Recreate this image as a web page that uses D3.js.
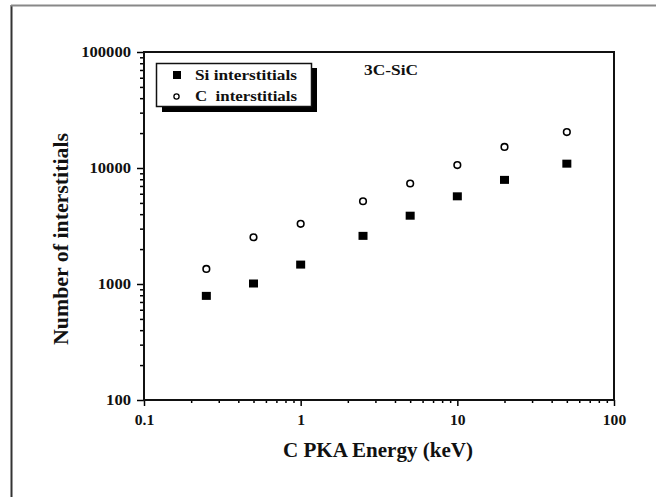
<!DOCTYPE html>
<html>
<head>
<meta charset="utf-8">
<script src="https://cdn.jsdelivr.net/npm/d3@7"></script>
<style>
  body { margin: 0; background: #fff; }
  svg { display: block; }
  text { font-family: "Liberation Serif", "Times New Roman", serif; font-weight: bold; fill: #111; }
</style>
</head>
<body>
<div id="chart"></div>
<script>
// PKA energies (keV) and interstitial counts
const energies = [0.25, 0.5, 1, 2.5, 5, 10, 20, 50];
const siInterstitials = [790, 1010, 1470, 2600, 3880, 5700, 7900, 10900];
const cInterstitials = [1350, 2530, 3300, 5170, 7350, 10600, 15200, 20400];

const xMajor = [0.1, 1, 10, 100];
const yMajor = [100, 1000, 10000, 100000];
const xTickLabels = ["0.1", "1", "10", "100"];
const yTickLabels = ["100", "1000", "10000", "100000"];

const width = 656, height = 497;
const plot = { left: 144, right: 614, top: 52, bottom: 400 };

const svg = d3.select("#chart").append("svg")
  .attr("width", width)
  .attr("height", height);

// outer frame (left + top edges only)
svg.append("line").attr("x1", 11.5).attr("x2", 11.5).attr("y1", 5).attr("y2", height)
  .attr("stroke", "#333").attr("stroke-width", 2);
svg.append("line").attr("x1", 11).attr("x2", width).attr("y1", 5.5).attr("y2", 5.5)
  .attr("stroke", "#888").attr("stroke-width", 2);

const x = d3.scaleLog().domain([0.1, 100]).range([plot.left, plot.right]);
const y = d3.scaleLog().domain([100, 100000]).range([plot.bottom, plot.top]);

function minors(lo, hi) {
  const out = [];
  for (let d = lo; d < hi; d *= 10) {
    for (let k = 2; k <= 9; k++) out.push(d * k);
  }
  return out;
}

// the original glyphs are stretched wide; widen labels to match
function stretch(sel, perChar) {
  sel.each(function () {
    const t = this.textContent;
    const w = t.replace(".", "").length * perChar + (t.includes(".") ? 4 : 0);
    d3.select(this).attr("textLength", w).attr("lengthAdjust", "spacingAndGlyphs");
  });
}

// minor ticks
svg.append("g")
  .attr("transform", `translate(0,${plot.bottom})`)
  .call(d3.axisBottom(x).tickValues(minors(0.1, 100)).tickSize(3).tickFormat(""))
  .call(g => g.select(".domain").remove())
  .call(g => g.selectAll("line").attr("stroke-width", 1.5));
svg.append("g")
  .attr("transform", `translate(${plot.left},0)`)
  .call(d3.axisLeft(y).tickValues(minors(100, 100000)).tickSize(4).tickFormat(""))
  .call(g => g.select(".domain").remove())
  .call(g => g.selectAll("line").attr("stroke-width", 1.5));

// major ticks + labels
svg.append("g")
  .attr("transform", `translate(0,${plot.bottom})`)
  .call(d3.axisBottom(x).tickValues(xMajor).tickSize(6).tickPadding(8)
    .tickFormat((d, i) => xTickLabels[i]))
  .call(g => g.select(".domain").remove())
  .call(g => g.selectAll("line").attr("stroke-width", 1.5))
  .call(g => g.selectAll("text").attr("font-size", 15).attr("fill", "#111")
    .attr("font-family", "Liberation Serif, Times New Roman, serif").call(stretch, 7.8));
svg.append("g")
  .attr("transform", `translate(${plot.left},0)`)
  .call(d3.axisLeft(y).tickValues(yMajor).tickSize(7).tickPadding(6)
    .tickFormat((d, i) => yTickLabels[i]))
  .call(g => g.select(".domain").remove())
  .call(g => g.selectAll("line").attr("stroke-width", 1.5))
  .call(g => g.selectAll("text").attr("font-size", 15).attr("fill", "#111")
    .attr("font-family", "Liberation Serif, Times New Roman, serif").call(stretch, 8.3));

// plot frame
svg.append("rect")
  .attr("x", plot.left).attr("y", plot.top)
  .attr("width", plot.right - plot.left).attr("height", plot.bottom - plot.top)
  .attr("fill", "none").attr("stroke", "#111").attr("stroke-width", 2);

// data
const pts = svg.append("g");
pts.selectAll("rect.si")
  .data(energies.map((e, i) => [e, siInterstitials[i]]))
  .join("rect")
  .attr("class", "si")
  .attr("x", d => x(d[0]) - 4.5)
  .attr("y", d => y(d[1]) - 4)
  .attr("width", 9).attr("height", 8)
  .attr("fill", "#000");
pts.selectAll("circle.c")
  .data(energies.map((e, i) => [e, cInterstitials[i]]))
  .join("circle")
  .attr("class", "c")
  .attr("cx", d => x(d[0]))
  .attr("cy", d => y(d[1]))
  .attr("r", 3.3)
  .attr("fill", "#fff").attr("stroke", "#000").attr("stroke-width", 1.6);

// legend with drop shadow
const lg = svg.append("g");
lg.append("rect").attr("x", 162).attr("y", 68).attr("width", 155).attr("height", 44).attr("fill", "#000");
lg.append("rect").attr("x", 156.5).attr("y", 63.5).attr("width", 155).attr("height", 43)
  .attr("fill", "#fff").attr("stroke", "#111").attr("stroke-width", 1.5);
lg.append("rect").attr("x", 173).attr("y", 71).attr("width", 8).attr("height", 8).attr("fill", "#000");
lg.append("circle").attr("cx", 176.5).attr("cy", 96.5).attr("r", 2.6)
  .attr("fill", "#fff").attr("stroke", "#000").attr("stroke-width", 1.3);
lg.append("text").attr("x", 195).attr("y", 80).attr("font-size", 14)
  .attr("textLength", 102).attr("lengthAdjust", "spacingAndGlyphs").text("Si interstitials");
lg.append("text").attr("x", 195).attr("y", 101).attr("font-size", 14)
  .attr("textLength", 102).attr("lengthAdjust", "spacingAndGlyphs")
  .attr("xml:space", "preserve").style("white-space", "pre").text("C  interstitials");

// annotation
svg.append("text").attr("x", 391).attr("y", 75).attr("text-anchor", "middle")
  .attr("font-size", 14).attr("textLength", 54).attr("lengthAdjust", "spacingAndGlyphs")
  .text("3C-SiC");

// axis titles
svg.append("text").attr("x", 378).attr("y", 457).attr("text-anchor", "middle")
  .attr("font-size", 20).attr("textLength", 190).attr("lengthAdjust", "spacingAndGlyphs")
  .text("C PKA Energy (keV)");
svg.append("text")
  .attr("transform", "translate(68,239) rotate(-90)")
  .attr("text-anchor", "middle")
  .attr("font-size", 20).attr("textLength", 212).attr("lengthAdjust", "spacingAndGlyphs")
  .text("Number of interstitials");
</script>
</body>
</html>
